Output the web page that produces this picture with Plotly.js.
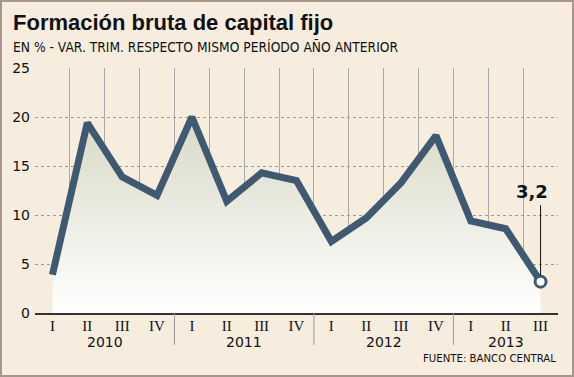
<!DOCTYPE html>
<html>
<head>
<meta charset="utf-8">
<script src="https://cdn.plot.ly/plotly-3.0.1.min.js"></script>
<style>
html,body{margin:0;padding:0;background:#f7eddf;}
#wrap{position:relative;width:574px;height:377px;}
#chart{position:absolute;left:0;top:0;width:574px;height:377px;}
#frame{position:absolute;left:0;top:0;width:574px;height:377px;box-sizing:border-box;border:2px solid #a8968a;pointer-events:none;}
</style>
</head>
<body>
<div id="wrap"><div id="chart"></div><div id="frame"></div></div>
<script>
// Data
var quarters = ["I","II","III","IV","I","II","III","IV","I","II","III","IV","I","II","III"];
var years = ["2010","2011","2012","2013"];
var quarterYear = ["2010","2010","2010","2010","2011","2011","2011","2011","2012","2012","2012","2012","2013","2013","2013"];
var values = [3.9, 19.4, 13.9, 12.0, 20.0, 11.4, 14.3, 13.5, 7.3, 9.7, 13.3, 18.1, 9.4, 8.6, 3.2];
var lastLabel = "3,2";
var title = "Formación bruta de capital fijo";
var subtitle = "EN % - VAR. TRIM. RESPECTO MISMO PERÍODO AÑO ANTERIOR";
var source = "FUENTE: BANCO CENTRAL";

var idx = quarters.map(function(_, i){ return i; });
var bounds = [];
for (var b = 0; b <= quarters.length; b++) bounds.push(b - 0.5);

var lineColor = "#3f5a70";
var narrow = "'DejaVu Sans Condensed', sans-serif";

var trace = {
  x: idx, y: values, type: "scatter", mode: "lines",
  line: {color: lineColor, width: 7},
  fill: "tozeroy",
  fillgradient: {type: "vertical", start: 0, stop: 20,
    colorscale: [[0, "#ffffff"], [1, "#d8d9c6"]]},
  hoverinfo: "skip"
};
var lastPt = {
  x: [idx[idx.length-1]], y: [values[values.length-1]], type: "scatter", mode: "markers",
  marker: {size: 11, color: "#ffffff", line: {color: lineColor, width: 3}},
  hoverinfo: "skip"
};
var labTrace = {x: idx, y: values, xaxis: "x2", type: "scatter", mode: "none", hoverinfo: "skip", showlegend: false};

var annotations = [
  {text: "<b>" + title + "</b>", xref: "paper", yref: "paper", x: -0.045, y: 1.184, xanchor: "left", yanchor: "middle",
   showarrow: false, font: {family: "'Liberation Sans', Arial, sans-serif", size: 22, color: "#111"}},
  {text: subtitle, xref: "paper", yref: "paper", x: -0.045, y: 1.086, xanchor: "left", yanchor: "middle",
   showarrow: false, font: {family: narrow, size: 13.7, color: "#111"}},
  {text: source, xref: "paper", yref: "paper", x: 1.0, y: -0.184, xanchor: "right", yanchor: "middle",
   showarrow: false, font: {family: narrow, size: 11.3, color: "#111"}},
  {text: "", x: idx[idx.length-1], y: values[values.length-1], showarrow: true, ax: 0, ay: -78,
   arrowhead: 0, arrowwidth: 1, arrowcolor: "#111", standoff: 6},
  {text: "<b>" + lastLabel + "</b>", x: idx[idx.length-1], y: values[values.length-1], showarrow: false,
   xshift: -9, yshift: 90, font: {family: "'DejaVu Sans', sans-serif", size: 18, color: "#111"}}
];
years.forEach(function(yr){
  var inds = idx.filter(function(i){ return quarterYear[i] === yr; });
  var mid = (inds[0] + inds[inds.length-1]) / 2;
  annotations.push({text: yr, x: mid, xref: "x", yref: "paper", y: -0.077, yanchor: "top", showarrow: false,
    font: {family: "'DejaVu Sans', sans-serif", size: 14, color: "#111"}});
});
var shapes = [];
for (var i = 1; i < quarters.length; i++) {
  if (quarterYear[i] !== quarterYear[i-1]) {
    shapes.push({type: "line", xref: "x", yref: "paper", x0: i - 0.5, x1: i - 0.5, y0: 0, y1: -0.13,
      line: {color: "#999", width: 1}});
  }
}

var layout = {
  width: 574, height: 377,
  margin: {l: 35, r: 16, t: 68, b: 64},
  paper_bgcolor: "#f7eddf", plot_bgcolor: "#f7eddf",
  showlegend: false,
  xaxis: {range: [-0.5, quarters.length - 0.5], tickmode: "array", tickvals: bounds, showticklabels: false,
    showgrid: true, gridcolor: "#a9a9a9", gridwidth: 1, zeroline: false, showline: true, linecolor: "#333", linewidth: 2,
    ticks: "", fixedrange: true},
  xaxis2: {overlaying: "x", anchor: "y", side: "bottom", range: [-0.5, quarters.length - 0.5], tickmode: "array",
    tickvals: idx, ticktext: quarters, showgrid: false, zeroline: false, showline: false, ticks: "",
    tickfont: {family: "'Liberation Serif', serif", size: 15, color: "#111"}, ticklabelstandoff: 2},
  yaxis: {range: [0, 25], tickmode: "linear", dtick: 5, showgrid: true, gridcolor: "#9a9a9a", griddash: "3px,3px",
    gridwidth: 1, zeroline: false, showline: false, ticks: "", ticklabelstandoff: 4,
    tickfont: {family: "'DejaVu Sans', sans-serif", size: 14, color: "#111"}},
  annotations: annotations,
  shapes: shapes
};
Plotly.newPlot("chart", [trace, lastPt, labTrace], layout, {staticPlot: true});
</script>
</body>
</html>
